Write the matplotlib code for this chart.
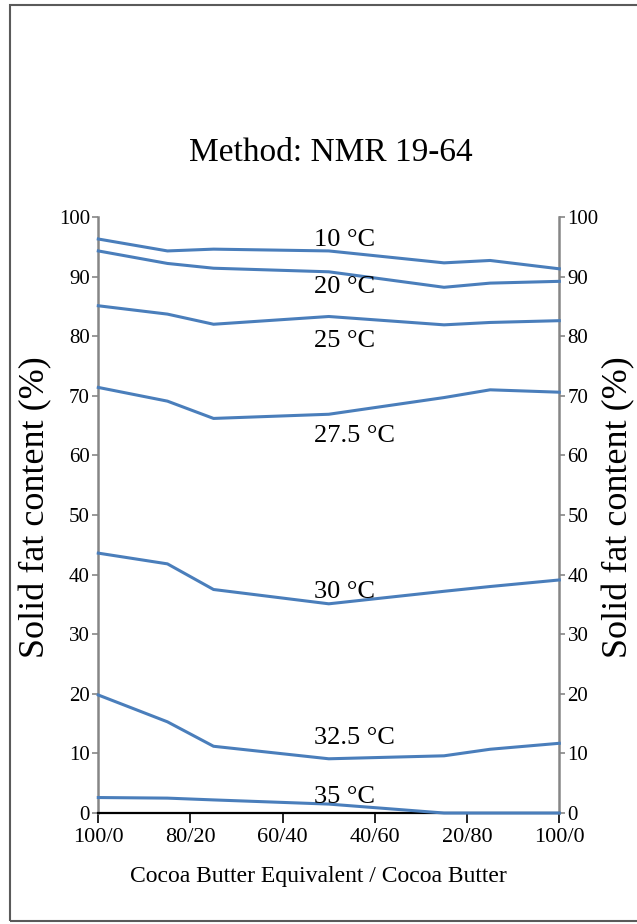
import matplotlib
matplotlib.use('Agg')
import matplotlib.pyplot as plt
from matplotlib.patches import Rectangle

plt.rcParams['font.family'] = ['Liberation Serif', 'DejaVu Serif']

# Blend ratio CBE/CB (position along axis) and solid fat content per temperature
x = [0, 15, 25, 50, 75, 85, 100]
t10 = [96.3, 94.3, 94.6, 94.3, 92.3, 92.7, 91.3]
t20 = [94.3, 92.2, 91.4, 90.8, 88.2, 88.9, 89.2]
t25 = [85.1, 83.7, 82.0, 83.3, 81.9, 82.3, 82.6]
t275 = [71.4, 69.1, 66.2, 66.9, 69.7, 71.0, 70.6]
t30 = [43.6, 41.8, 37.5, 35.1, 37.2, 38.0, 39.1]
t325 = [19.8, 15.3, 11.2, 9.1, 9.6, 10.7, 11.7]
t35 = [2.6, 2.5, 2.2, 1.5, 0.0, 0.0, 0.0]

series = [t10, t20, t25, t275, t30, t325, t35]
labels = ['10 °C', '20 °C', '25 °C', '27.5 °C', '30 °C', '32.5 °C', '35 °C']
label_y = [95.1, 87.2, 78.1, 62.3, 36.1, 11.6, 1.7]

xticks = [0, 20, 40, 60, 80, 100]
xticklabels = ['100/0', '80/20', '60/40', '40/60', '20/80', '100/0']

blue = '#4A7EBB'
grey = '#868686'

fig = plt.figure(figsize=(6.37, 9.24), dpi=100)
ax = fig.add_axes([0.1543, 0.1201, 0.7237, 0.6451])

for y in series:
    ax.plot(x, y, color=blue, lw=2.2, zorder=3, clip_on=False)
for lab, yy in zip(labels, label_y):
    ax.text(46.8, yy, lab, fontsize=19, ha='left', va='baseline', zorder=4)

ax.set_xlim(0, 100)
ax.set_ylim(0, 100)
ax.set_xticks(xticks)
ax.set_xticklabels(xticklabels)
ax.set_yticks(range(0, 101, 10))

ax.spines['top'].set_visible(False)
ax.spines['bottom'].set_color('black')
ax.spines['bottom'].set_linewidth(1.6)
for s in ['left', 'right']:
    ax.spines[s].set_color(grey)
    ax.spines[s].set_linewidth(1.8)

ax.tick_params(axis='x', direction='out', length=7, width=1.2, color='black',
               labelsize=16, pad=4)
ax.tick_params(axis='y', direction='out', length=4, width=1.2, color=grey,
               labelsize=15, pad=2, left=True, right=True,
               labelleft=True, labelright=True)

# Titles and axis labels
fig.text(0.52, 0.826, 'Method: NMR 19-64', fontsize=24, ha='center', va='baseline')
fig.text(0.4992, 0.0455, 'Cocoa Butter Equivalent / Cocoa Butter', fontsize=17,
         ha='center', va='baseline')
fig.text(0.0565, 0.4513, 'Solid fat content (%)', fontsize=26, rotation=90,
         ha='center', va='center')
fig.text(0.972, 0.4513, 'Solid fat content (%)', fontsize=26, rotation=90,
         ha='center', va='center')

# chart area border
fig.patches.append(Rectangle((10 / 637, 1 - 921 / 924), 1.0, 916 / 924,
                             transform=fig.transFigure, fill=False,
                             edgecolor='#5a5a5a', lw=1.5))

fig.savefig('out.png', dpi=100)
